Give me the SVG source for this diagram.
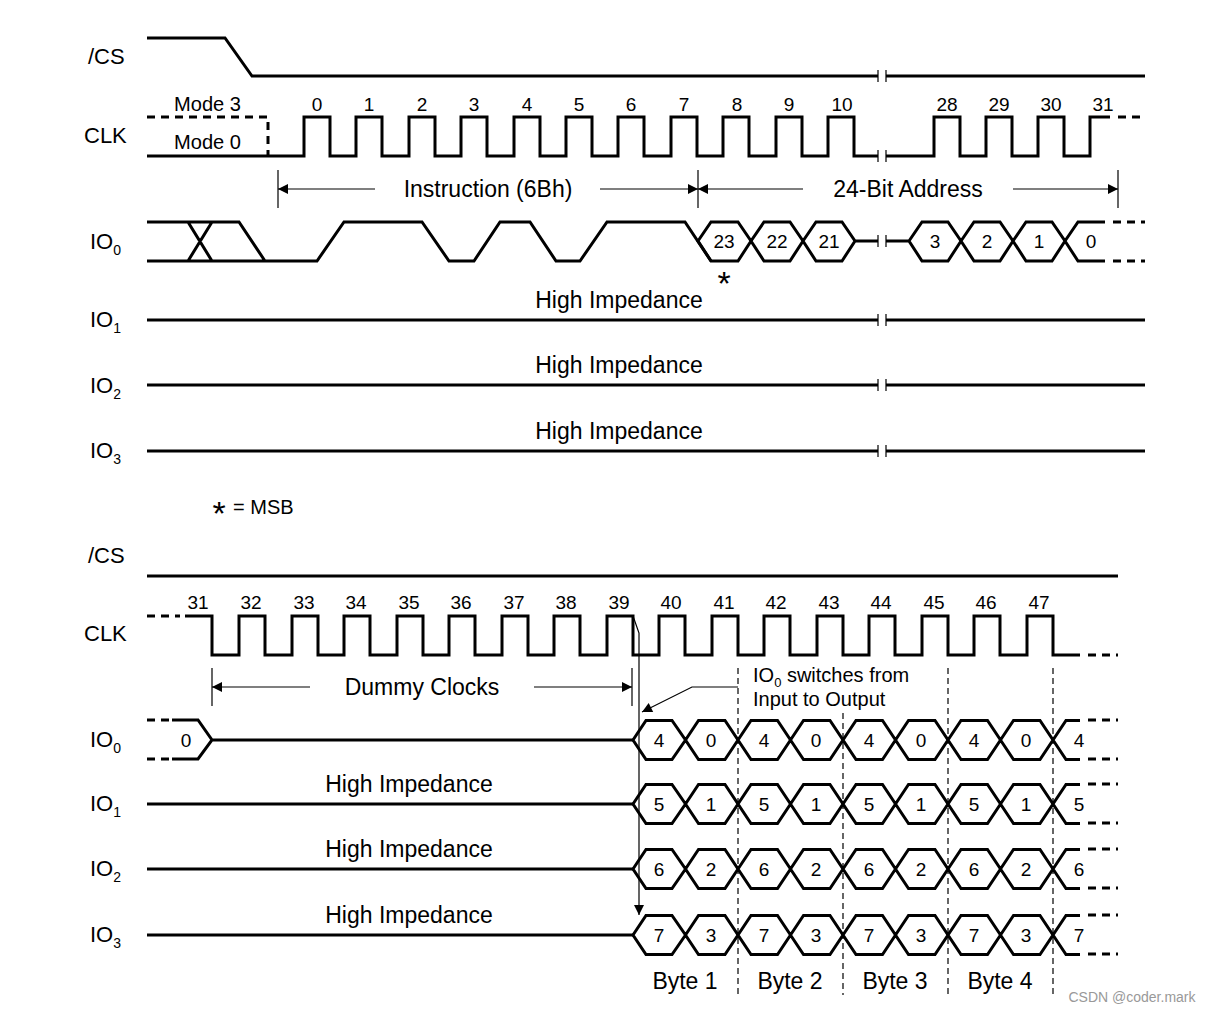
<svg xmlns="http://www.w3.org/2000/svg" width="1217" height="1013" viewBox="0 0 1217 1013">
<style>
text{font-family:"Liberation Sans",Arial,sans-serif;fill:#000}
.lab{font-size:22px}
.num{font-size:19px;text-anchor:middle}
.big{font-size:23px;text-anchor:middle}
.star{font-size:34px;text-anchor:middle}
.w{fill:none;stroke:#000;stroke-width:3;stroke-linejoin:miter}
.d{fill:none;stroke:#000;stroke-width:3;stroke-dasharray:8,6}
.t{fill:none;stroke:#000;stroke-width:1.2}
.td{fill:none;stroke:#000;stroke-width:1.2;stroke-dasharray:6,4}
</style>
<defs>
<marker id="ah" viewBox="0 0 10 10" refX="10" refY="5" markerWidth="16" markerHeight="10" markerUnits="userSpaceOnUse" orient="auto"><path d="M0,0 L10,5 L0,10 Z" fill="#000"/></marker>
</defs>
<g id="labels">
<text class="lab" x="88" y="64">/CS</text>
<text class="lab" x="84" y="143">CLK</text>
<text class="lab" x="90" y="249">IO<tspan font-size="14" dy="6">0</tspan></text>
<text class="lab" x="90" y="327">IO<tspan font-size="14" dy="6">1</tspan></text>
<text class="lab" x="90" y="393">IO<tspan font-size="14" dy="6">2</tspan></text>
<text class="lab" x="90" y="458">IO<tspan font-size="14" dy="6">3</tspan></text>
<text class="star" x="219" y="525">*</text>
<text x="233" y="514" font-size="20">= MSB</text>
<text class="lab" x="88" y="563">/CS</text>
<text class="lab" x="84" y="641">CLK</text>
<text class="lab" x="90" y="747">IO<tspan font-size="14" dy="6">0</tspan></text>
<text class="lab" x="90" y="811">IO<tspan font-size="14" dy="6">1</tspan></text>
<text class="lab" x="90" y="876">IO<tspan font-size="14" dy="6">2</tspan></text>
<text class="lab" x="90" y="942">IO<tspan font-size="14" dy="6">3</tspan></text>
</g>
<g id="top-cs">
<path class="w" d="M147,38 H225 L252,76 H878 M886,76 H1145"/>
</g>
<g id="top-clk">
<path class="d" d="M147,117 H268 V156"/>
<path class="w" d="M147,156 H304 V117 H330 V156 H356 V117 H382 V156 H409 V117 H435 V156 H461 V117 H487 V156 H514 V117 H540 V156 H566 V117 H592 V156 H618 V117 H644 V156 H671 V117 H697 V156 H723 V117 H749 V156 H776 V117 H802 V156 H828 V117 H854 V156 H878"/>
<path class="w" d="M886,156 H934 V117 H960 V156 H986 V117 H1012 V156 H1038 V117 H1064 V156 H1090 V117 H1110"/>
<path class="d" d="M1118,117 H1145"/>
<text x="174" y="111" font-size="20" textLength="67" lengthAdjust="spacingAndGlyphs">Mode 3</text>
<text x="174" y="149" font-size="20" textLength="67" lengthAdjust="spacingAndGlyphs">Mode 0</text>
<g class="num">
<text x="317" y="111">0</text><text x="369" y="111">1</text><text x="422" y="111">2</text><text x="474" y="111">3</text><text x="527" y="111">4</text><text x="579" y="111">5</text><text x="631" y="111">6</text><text x="684" y="111">7</text><text x="737" y="111">8</text><text x="789" y="111">9</text><text x="842" y="111">10</text><text x="947" y="111">28</text><text x="999" y="111">29</text><text x="1051" y="111">30</text><text x="1103" y="111">31</text>
</g>
</g>
<g id="top-spans">
<path class="t" d="M278,170 V208 M698,170 V208 M1118,170 V208"/>
<path class="t" d="M375,189 H278" marker-end="url(#ah)"/>
<path class="t" d="M600,189 H698" marker-end="url(#ah)"/>
<path class="t" d="M803,189 H698" marker-end="url(#ah)"/>
<path class="t" d="M1013,189 H1118" marker-end="url(#ah)"/>
<text class="big" x="488" y="197">Instruction (6Bh)</text>
<text class="big" x="908" y="197">24-Bit Address</text>
</g>
<g id="top-io0">
<path class="w" d="M147,222 H188 L212,261 M147,261 H188 L212,222 M147,222 H239 L265,261 M147,261 H317 L344,222 H422 L449,261 H474 L500,222 H530 L556,261 H580 L607,222 H685 L711,261"/>
<path class="w" d="M698,241 L711,222 H738 L751,241 L738,261 H711 Z M751,241 L764,222 H790 L803,241 L790,261 H764 Z M803,241 L816,222 H842 L855,241 L842,261 H816 Z M855,241 H878 M886,241 H909 M909,241 L922,222 H948 L961,241 L948,261 H922 Z M961,241 L974,222 H1000 L1013,241 L1000,261 H974 Z M1013,241 L1026,222 H1052 L1065,241 L1052,261 H1026 Z M1065,241 L1078,222 H1105 M1065,241 L1078,261 H1105"/>
<path class="d" d="M1113,222 H1145 M1113,261 H1145"/>
<g class="num"><text x="724" y="248">23</text><text x="777" y="248">22</text><text x="829" y="248">21</text><text x="935" y="248">3</text><text x="987" y="248">2</text><text x="1039" y="248">1</text><text x="1091" y="248">0</text></g>
<text class="star" x="724" y="295">*</text>
</g>
<g id="top-io123">
<path class="w" d="M147,320 H878 M886,320 H1145 M147,385 H878 M886,385 H1145 M147,451 H878 M886,451 H1145"/>
<text class="big" x="619" y="308">High Impedance</text>
<text class="big" x="619" y="373">High Impedance</text>
<text class="big" x="619" y="439">High Impedance</text>
</g>
<g id="breaks">
<path class="t" d="M878,70 V82 M886,70 V82 M878,150 V162 M886,150 V162 M878,235 V247 M886,235 V247 M878,314 V326 M886,314 V326 M878,379 V391 M886,379 V391 M878,445 V457 M886,445 V457"/>
</g>
<g id="bot-cs"><path class="w" d="M147,576 H1118"/></g>
<g id="bot-clk">
<path class="d" d="M147,616 H180"/>
<path class="w" d="M185,616 H212 V655 H239 V616 H265 V655 H292 V616 H318 V655 H344 V616 H370 V655 H397 V616 H423 V655 H449 V616 H475 V655 H502 V616 H528 V655 H554 V616 H580 V655 H607 V616 H633 V655 H659 V616 H685 V655 H712 V616 H738 V655 H764 V616 H790 V655 H817 V616 H843 V655 H869 V616 H895 V655 H922 V616 H948 V655 H974 V616 H1000 V655 H1027 V616 H1053 V655 H1080"/>
<path class="d" d="M1088,655 H1118"/>
<g class="num">
<text x="198" y="609">31</text><text x="251" y="609">32</text><text x="304" y="609">33</text><text x="356" y="609">34</text><text x="409" y="609">35</text><text x="461" y="609">36</text><text x="514" y="609">37</text><text x="566" y="609">38</text><text x="619" y="609">39</text><text x="671" y="609">40</text><text x="724" y="609">41</text><text x="776" y="609">42</text><text x="829" y="609">43</text><text x="881" y="609">44</text><text x="934" y="609">45</text><text x="986" y="609">46</text><text x="1039" y="609">47</text>
</g>
</g>
<g id="bot-spans">
<path class="t" d="M212,668 V706 M632,668 V706"/>
<path class="t" d="M310,687 H212" marker-end="url(#ah)"/>
<path class="t" d="M534,687 H632" marker-end="url(#ah)"/>
<text class="big" x="422" y="695">Dummy Clocks</text>
<path class="td" d="M738,668 V995 M843,713 V995 M948,668 V995 M1053,668 V995"/>
<path class="t" d="M633,616 L639,633 V915" marker-end="url(#ah)"/>
<path class="t" d="M738,687 H692 L642,712" marker-end="url(#ah)"/>
<text x="753" y="682" font-size="20">IO<tspan font-size="13" dy="5">0</tspan><tspan dy="-5"> switches from</tspan></text>
<text x="753" y="706" font-size="20">Input to Output</text>
</g>
<g id="bot-io0">
<path class="d" d="M147,720 H172 M147,759 H172"/>
<path class="w" d="M172,720 H198 L212,740 L198,759 H172 M212,740 H633"/>
<text class="num" x="186" y="747">0</text>
</g>
<g id="bot-io123">
<path class="w" d="M147,804 H633 M147,869 H633 M147,935 H633"/>
<text class="big" x="409" y="792">High Impedance</text>
<text class="big" x="409" y="857">High Impedance</text>
<text class="big" x="409" y="923">High Impedance</text>
</g>
<g id="bot-hex">
<path class="w" d="M633,0 L646,-19.5 H672 L685.5,0 L672,19.5 H646 Z M685.5,0 L698.5,-19.5 H725 L738,0 L725,19.5 H698.5 Z M738,0 L751,-19.5 H777.5 L790.5,0 L777.5,19.5 H751 Z M790.5,0 L803.5,-19.5 H830 L843,0 L830,19.5 H803.5 Z M843,0 L856,-19.5 H882.5 L895.5,0 L882.5,19.5 H856 Z M895.5,0 L908.5,-19.5 H935 L948,0 L935,19.5 H908.5 Z M948,0 L961,-19.5 H987.5 L1000.5,0 L987.5,19.5 H961 Z M1000.5,0 L1013.5,-19.5 H1040 L1053,0 L1040,19.5 H1013.5 Z M1053,0 L1066,-19.5 H1080 M1053,0 L1066,19.5 H1080" transform="translate(0,740)"/>
<path class="w" d="M633,0 L646,-19.5 H672 L685.5,0 L672,19.5 H646 Z M685.5,0 L698.5,-19.5 H725 L738,0 L725,19.5 H698.5 Z M738,0 L751,-19.5 H777.5 L790.5,0 L777.5,19.5 H751 Z M790.5,0 L803.5,-19.5 H830 L843,0 L830,19.5 H803.5 Z M843,0 L856,-19.5 H882.5 L895.5,0 L882.5,19.5 H856 Z M895.5,0 L908.5,-19.5 H935 L948,0 L935,19.5 H908.5 Z M948,0 L961,-19.5 H987.5 L1000.5,0 L987.5,19.5 H961 Z M1000.5,0 L1013.5,-19.5 H1040 L1053,0 L1040,19.5 H1013.5 Z M1053,0 L1066,-19.5 H1080 M1053,0 L1066,19.5 H1080" transform="translate(0,804)"/>
<path class="w" d="M633,0 L646,-19.5 H672 L685.5,0 L672,19.5 H646 Z M685.5,0 L698.5,-19.5 H725 L738,0 L725,19.5 H698.5 Z M738,0 L751,-19.5 H777.5 L790.5,0 L777.5,19.5 H751 Z M790.5,0 L803.5,-19.5 H830 L843,0 L830,19.5 H803.5 Z M843,0 L856,-19.5 H882.5 L895.5,0 L882.5,19.5 H856 Z M895.5,0 L908.5,-19.5 H935 L948,0 L935,19.5 H908.5 Z M948,0 L961,-19.5 H987.5 L1000.5,0 L987.5,19.5 H961 Z M1000.5,0 L1013.5,-19.5 H1040 L1053,0 L1040,19.5 H1013.5 Z M1053,0 L1066,-19.5 H1080 M1053,0 L1066,19.5 H1080" transform="translate(0,869)"/>
<path class="w" d="M633,0 L646,-19.5 H672 L685.5,0 L672,19.5 H646 Z M685.5,0 L698.5,-19.5 H725 L738,0 L725,19.5 H698.5 Z M738,0 L751,-19.5 H777.5 L790.5,0 L777.5,19.5 H751 Z M790.5,0 L803.5,-19.5 H830 L843,0 L830,19.5 H803.5 Z M843,0 L856,-19.5 H882.5 L895.5,0 L882.5,19.5 H856 Z M895.5,0 L908.5,-19.5 H935 L948,0 L935,19.5 H908.5 Z M948,0 L961,-19.5 H987.5 L1000.5,0 L987.5,19.5 H961 Z M1000.5,0 L1013.5,-19.5 H1040 L1053,0 L1040,19.5 H1013.5 Z M1053,0 L1066,-19.5 H1080 M1053,0 L1066,19.5 H1080" transform="translate(0,935)"/>
<path class="d" d="M1088,720 H1118 M1088,759 H1118 M1088,784 H1118 M1088,823 H1118 M1088,849 H1118 M1088,888 H1118 M1088,915 H1118 M1088,954 H1118"/>
<g class="num">
<text x="659" y="747">4</text><text x="711" y="747">0</text><text x="764" y="747">4</text><text x="816" y="747">0</text><text x="869" y="747">4</text><text x="921" y="747">0</text><text x="974" y="747">4</text><text x="1026" y="747">0</text><text x="1079" y="747">4</text>
<text x="659" y="811">5</text><text x="711" y="811">1</text><text x="764" y="811">5</text><text x="816" y="811">1</text><text x="869" y="811">5</text><text x="921" y="811">1</text><text x="974" y="811">5</text><text x="1026" y="811">1</text><text x="1079" y="811">5</text>
<text x="659" y="876">6</text><text x="711" y="876">2</text><text x="764" y="876">6</text><text x="816" y="876">2</text><text x="869" y="876">6</text><text x="921" y="876">2</text><text x="974" y="876">6</text><text x="1026" y="876">2</text><text x="1079" y="876">6</text>
<text x="659" y="942">7</text><text x="711" y="942">3</text><text x="764" y="942">7</text><text x="816" y="942">3</text><text x="869" y="942">7</text><text x="921" y="942">3</text><text x="974" y="942">7</text><text x="1026" y="942">3</text><text x="1079" y="942">7</text>
</g>
<text class="big" x="685" y="989">Byte 1</text><text class="big" x="790" y="989">Byte 2</text><text class="big" x="895" y="989">Byte 3</text><text class="big" x="1000" y="989">Byte 4</text>
</g>
<text x="1132" y="1002" font-size="14" style="fill:#999" text-anchor="middle">CSDN @coder.mark</text>
</svg>
